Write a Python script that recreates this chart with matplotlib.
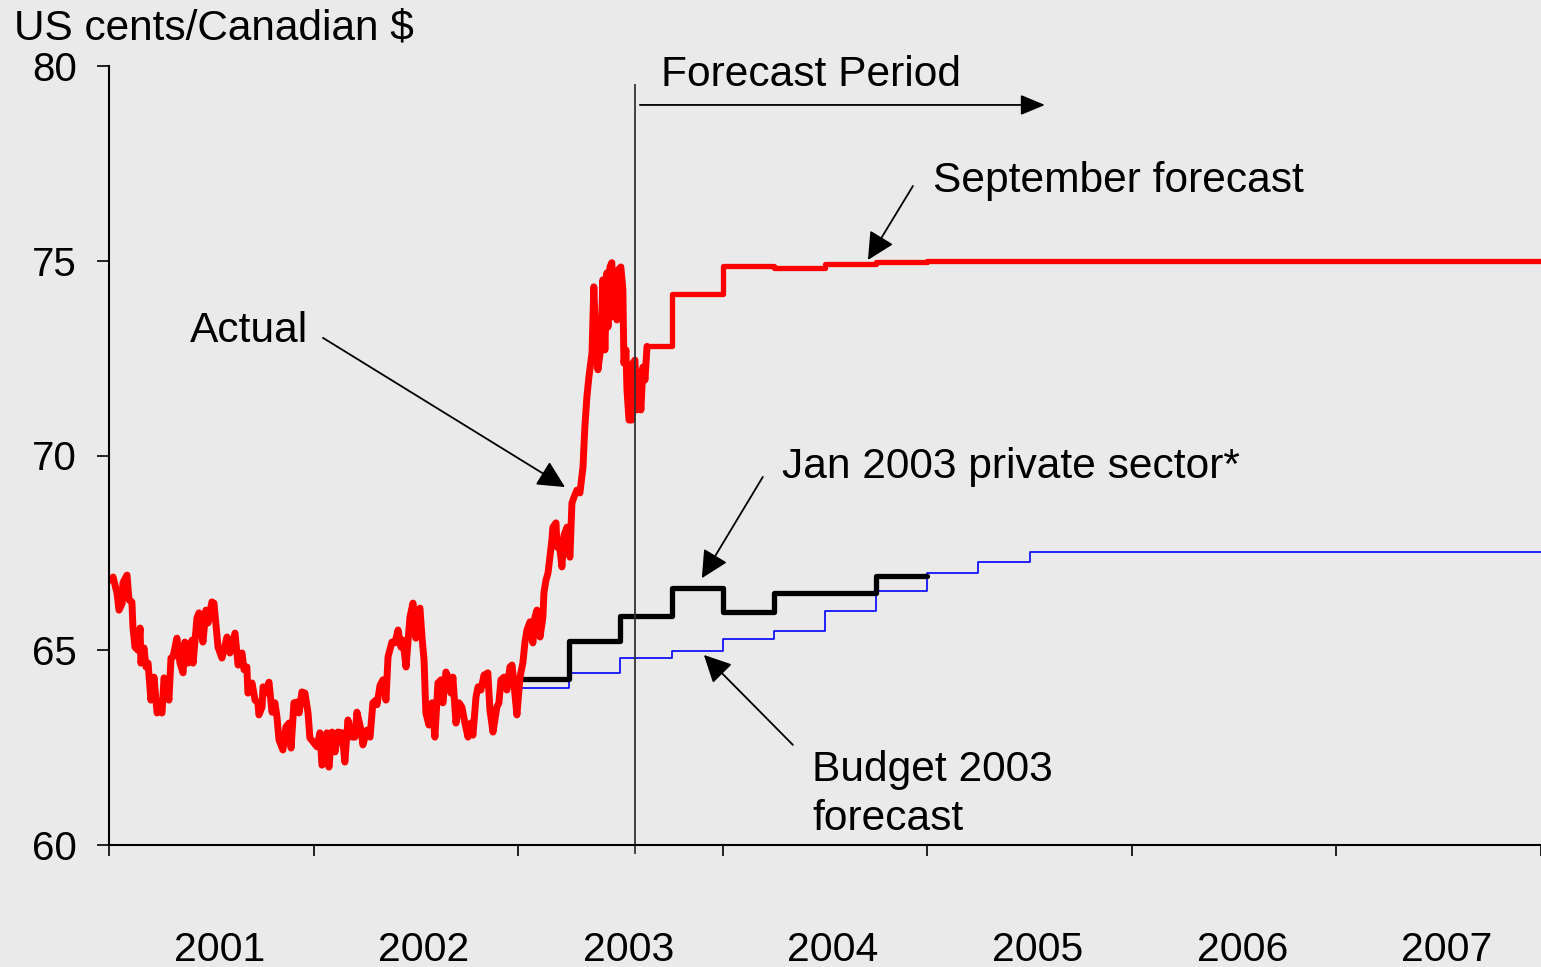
import matplotlib
matplotlib.use("Agg")
import matplotlib.pyplot as plt

plt.rcParams["font.family"] = ["Liberation Sans", "DejaVu Sans"]

# actual exchange rate (decimal year, US cents per C$)
actual_t = [
    2001.005, 2001.020, 2001.039, 2001.049, 2001.064, 2001.068, 2001.088, 2001.098,
    2001.112, 2001.117, 2001.127, 2001.142, 2001.152, 2001.156, 2001.171, 2001.181,
    2001.191, 2001.205, 2001.220, 2001.235, 2001.249, 2001.259, 2001.269, 2001.283,
    2001.293, 2001.303, 2001.313, 2001.332, 2001.347, 2001.362, 2001.371, 2001.386,
    2001.406, 2001.411, 2001.430, 2001.440, 2001.459, 2001.474, 2001.484, 2001.503,
    2001.513, 2001.523, 2001.533, 2001.552, 2001.577, 2001.591, 2001.616, 2001.631,
    2001.650, 2001.660, 2001.674, 2001.679, 2001.699, 2001.714, 2001.728, 2001.733,
    2001.748, 2001.753, 2001.767, 2001.782, 2001.797, 2001.811, 2001.821, 2001.831,
    2001.850, 2001.865, 2001.880, 2001.890, 2001.904, 2001.919, 2001.929, 2001.943,
    2001.958, 2001.973, 2001.982, 2002.002, 2002.017, 2002.031, 2002.041, 2002.056,
    2002.065, 2002.075, 2002.090, 2002.105, 2002.119, 2002.139, 2002.153, 2002.168,
    2002.188, 2002.202, 2002.212, 2002.232, 2002.241, 2002.261, 2002.276, 2002.290,
    2002.305, 2002.310, 2002.325, 2002.339, 2002.354, 2002.364, 2002.383, 2002.398,
    2002.413, 2002.427, 2002.437, 2002.452, 2002.461, 2002.471, 2002.486, 2002.500,
    2002.510, 2002.520, 2002.530, 2002.540, 2002.549, 2002.564, 2002.579, 2002.593,
    2002.608, 2002.623, 2002.632, 2002.647, 2002.662, 2002.672, 2002.681, 2002.696,
    2002.711, 2002.725, 2002.740, 2002.755, 2002.769, 2002.779, 2002.794, 2002.804,
    2002.818, 2002.833, 2002.852, 2002.862, 2002.877, 2002.896, 2002.906, 2002.916,
    2002.931, 2002.945, 2002.960, 2002.970, 2002.979, 2002.994, 2003.009, 2003.023,
    2003.033, 2003.043, 2003.058, 2003.072, 2003.082, 2003.092, 2003.107, 2003.121,
    2003.126, 2003.136, 2003.146, 2003.155, 2003.165, 2003.170, 2003.185, 2003.190,
    2003.199, 2003.214, 2003.224, 2003.239, 2003.243, 2003.253, 2003.263, 2003.273,
    2003.287, 2003.302, 2003.317, 2003.326, 2003.336, 2003.346, 2003.361, 2003.370,
    2003.380, 2003.390, 2003.405, 2003.414, 2003.424, 2003.434, 2003.439, 2003.449,
    2003.458, 2003.463, 2003.473, 2003.483, 2003.488, 2003.502, 2003.512, 2003.517,
    2003.527, 2003.532, 2003.542, 2003.556, 2003.561, 2003.571, 2003.580, 2003.585,
    2003.600, 2003.610, 2003.620, 2003.630,
]
actual_v = [
    66.80, 66.88, 66.47, 66.03, 66.20, 66.73, 66.93, 66.29,
    66.24, 65.60, 65.08, 65.00, 65.57, 64.67, 65.06, 64.57,
    64.67, 63.72, 64.31, 63.39, 63.54, 63.39, 64.29, 64.06,
    63.72, 64.80, 64.83, 65.31, 64.67, 64.42, 65.21, 64.67,
    65.26, 64.67, 65.83, 65.96, 65.21, 66.03, 65.70, 66.24,
    66.21, 65.65, 65.08, 64.80, 65.34, 64.93, 65.44, 64.62,
    64.93, 64.50, 64.57, 63.90, 64.16, 63.72, 63.65, 63.34,
    63.54, 64.06, 63.90, 64.18, 63.41, 63.65, 63.29, 62.70,
    62.44, 63.03, 63.13, 62.49, 63.65, 63.67, 63.39, 63.93,
    63.90, 63.39, 62.75, 62.62, 62.52, 62.88, 62.05, 62.18,
    62.88, 62.00, 62.90, 62.39, 62.90, 62.88, 62.13, 63.21,
    62.77, 62.77, 63.41, 62.95, 62.57, 62.95, 62.77, 63.65,
    63.72, 63.60, 64.10, 64.24, 63.72, 64.83, 65.21, 65.19,
    65.52, 65.08, 65.26, 64.57, 65.19, 65.85, 66.21, 65.31,
    65.96, 66.08, 65.34, 64.75, 63.39, 63.08, 63.65, 62.77,
    64.16, 64.24, 63.65, 64.44, 64.24, 63.90, 64.31, 63.13,
    63.65, 63.54, 63.13, 62.77, 63.13, 62.82, 63.80, 64.06,
    63.98, 64.36, 64.42, 63.47, 62.90, 63.54, 63.65, 64.24,
    64.31, 63.98, 64.57, 64.62, 64.16, 63.34, 64.31, 64.67,
    65.19, 65.52, 65.73, 65.19, 65.85, 66.03, 65.34, 65.85,
    66.47, 66.80, 66.98, 67.39, 67.83, 68.16, 68.27, 67.65,
    67.83, 67.14, 67.95, 68.16, 67.95, 67.39, 68.78, 68.93,
    69.11, 69.04, 69.70, 70.73, 71.50, 72.02, 72.63, 74.33,
    72.80, 72.20, 72.80, 74.51, 72.71, 74.69, 73.30, 74.84,
    74.95, 73.56, 74.17, 73.48, 74.76, 74.84, 74.25, 72.37,
    72.71, 71.68, 70.91, 70.91, 72.37, 72.45, 71.17, 72.12,
    71.17, 72.27, 71.94, 72.80,
]

# September forecast (quarterly, step starts)
sep_t = [2003.63, 2003.75, 2004.0, 2004.25, 2004.5, 2004.75, 2005.0, 2008.0]
sep_v = [72.80, 74.15, 74.87, 74.81, 74.91, 74.96, 75.00, 75.00]

# January 2003 private sector forecast
jan_t = [2003.0, 2003.25, 2003.5, 2003.75, 2004.0, 2004.25, 2004.5, 2004.75, 2005.0]
jan_v = [64.25, 65.23, 65.88, 66.60, 65.98, 66.47, 66.47, 66.90, 66.90]

# Budget 2003 forecast
bud_t = [2003.0, 2003.25, 2003.5, 2003.75, 2004.0, 2004.25, 2004.5, 2004.75,
         2005.0, 2005.25, 2005.5, 2008.0]
bud_v = [64.02, 64.42, 64.81, 64.99, 65.29, 65.50, 66.00, 66.52,
         66.98, 67.27, 67.52, 67.52]

years = [2001, 2002, 2003, 2004, 2005, 2006, 2007]
forecast_start = 2003.57

BG = "#eaeaea"
FS = 30.6

fig = plt.figure(figsize=(15.41, 9.67), dpi=100, facecolor=BG)
ax = fig.add_axes([109 / 1541, 122 / 967, 1 - 109 / 1541, (845 - 66) / 967])
ax.set_facecolor(BG)

ax.plot(bud_t, bud_v, color="#0000ff", linewidth=1.2, drawstyle="steps-post")
ax.plot(jan_t, jan_v, color="black", linewidth=3.8, drawstyle="steps-post",
        solid_capstyle="round")
ax.plot(sep_t, sep_v, color="#ff0000", linewidth=3.8, drawstyle="steps-post")
ax.plot(actual_t, actual_v, color="#ff0000", linewidth=5.0, solid_joinstyle="round",
        solid_capstyle="round")

ax.plot([forecast_start, forecast_start], [59.8, 79.5], color="#333333",
        linewidth=1.3, clip_on=False)

ax.set_xlim(2001, 2008)
ax.set_ylim(60, 80)
ax.set_yticks([60, 65, 70, 75, 80])
ax.set_xticks(years + [2008])
ax.set_xticklabels([])
ax.set_xticks([y + 0.54 for y in years], minor=True)
ax.set_xticklabels([str(y) for y in years], minor=True)

for side in ("top", "right"):
    ax.spines[side].set_visible(False)
for side in ("left", "bottom"):
    ax.spines[side].set_linewidth(1.5)

ax.tick_params(axis="y", direction="out", length=9, width=1.2, pad=14, labelsize=29)
ax.tick_params(axis="x", which="major", direction="out", length=8, width=1.2)
ax.tick_params(axis="x", which="minor", length=0, pad=62, labelsize=29.5)

fig.text(14 / 1541, 1 - 28 / 967, "US cents/Canadian $", fontsize=30.5,
         ha="left", va="center")

head = dict(arrowstyle="-|>,head_length=0.6,head_width=0.3", mutation_scale=28,
            color="black", lw=1.3, shrinkA=0, shrinkB=0)

ax.annotate("", xy=(2005.575, 79.0), xytext=(2003.595, 79.0),
            arrowprops=dict(arrowstyle="-|>,head_length=0.6,head_width=0.25",
                            mutation_scale=25, color="black", lw=1.3,
                            shrinkA=0, shrinkB=0), annotation_clip=False)
ax.text(2003.698, 79.78, "Forecast Period", fontsize=FS, ha="left", va="center",
        clip_on=False)

ax.annotate("", xy=(2004.71, 75.02), xytext=(2004.93, 76.92), arrowprops=head)
ax.text(2005.027, 77.06, "September forecast", fontsize=FS, ha="left", va="center")

ax.annotate("", xy=(2003.229, 69.19), xytext=(2002.046, 73.02), arrowprops=head)
ax.text(2001.396, 73.2, "Actual", fontsize=FS, ha="left", va="center")

ax.annotate("", xy=(2003.898, 66.85), xytext=(2004.196, 69.45), arrowprops=head)
ax.text(2004.289, 69.7, "Jan 2003 private sector*", fontsize=FS, ha="left",
        va="center")

ax.annotate("", xy=(2003.908, 64.88), xytext=(2004.343, 62.57), arrowprops=head)
ax.text(2004.436, 61.3, "Budget 2003\nforecast", fontsize=FS, ha="left",
        va="center", linespacing=1.28)

fig.savefig("out.png", dpi=100, facecolor=BG)
